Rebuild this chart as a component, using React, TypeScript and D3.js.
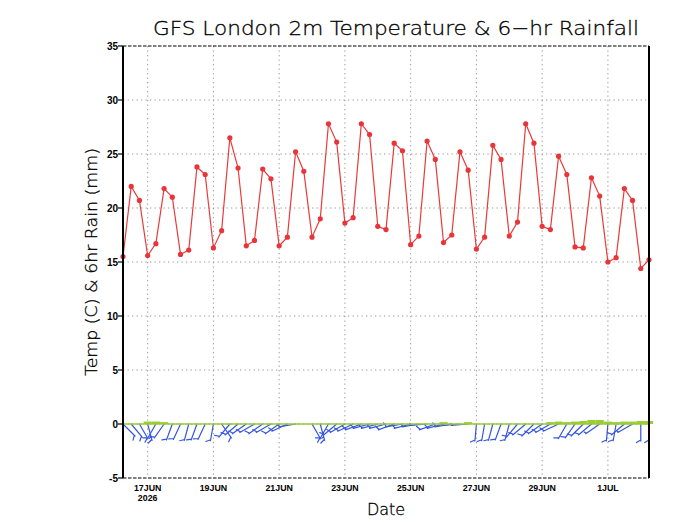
import * as d3 from "d3";

// 6-hourly GFS output, 16 Jun 06Z to 2 Jul 06Z 2026
const startTime = Date.UTC(2026, 5, 16, 6);
const stepHours = 6;

const tempC = [
  15.5, 22.0, 20.7, 15.6, 16.7, 21.8, 21.0, 15.7, 16.1, 23.8, 23.1, 16.3, 17.9,
  26.5, 23.7, 16.5, 17.0, 23.6, 22.7, 16.5, 17.3, 25.2, 23.4, 17.3, 19.0, 27.8,
  26.1, 18.6, 19.1, 27.8, 26.8, 18.3, 18.0, 26.0, 25.3, 16.6, 17.4, 26.2, 24.5,
  16.8, 17.5, 25.2, 23.5, 16.2, 17.3, 25.8, 24.5, 17.4, 18.7, 27.8, 26.0, 18.3,
  18.0, 24.8, 23.1, 16.4, 16.3, 22.8, 21.1, 15.0, 15.4, 21.8, 20.7, 14.4, 15.2,
];

const rainMm = [
  0, 0, 0, 0.15, 0.15, 0.1, 0, 0, 0, 0, 0, 0, 0, 0, 0, 0, 0, 0, 0, 0, 0, 0, 0,
  0, 0, 0, 0, 0, 0, 0, 0, 0, 0, 0, 0, 0, 0, 0, 0, 0.1, 0, 0, 0.1, 0, 0, 0, 0, 0,
  0, 0, 0, 0, 0.1, 0.15, 0.1, 0.15, 0.2, 0.3, 0.3, 0.15, 0.1, 0.15, 0.15, 0.2,
  0.2,
];

// 10m wind: direction (deg, from) and speed (kt)
const windDir = [
  135, 140, 150, 165, 210, 215, 200, 205, 195, 200, 205, 190, 145, 220, 230,
  235, 240, 235, 240, 235, 245, 260, 0, 150, 165, 210, 230, 240, 245, 250, 255,
  255, 255, 250, 260, 255, 260, 265, 250, 255, 260, 265, 265, 185, 190, 195,
  200, 195, 220, 230, 225, 235, 240, 245, 210, 215, 225, 230, 235, 185, 190,
  230, 240, 180, 180,
];
const windKt = [
  10, 10, 10, 15, 10, 10, 10, 10, 10, 10, 10, 10, 10, 10, 10, 10, 10, 10, 10,
  10, 10, 5, 0, 10, 15, 10, 10, 10, 10, 10, 10, 10, 10, 10, 10, 10, 5, 5, 10,
  10, 10, 5, 5, 10, 10, 10, 10, 10, 10, 10, 10, 10, 10, 10, 10, 10, 10, 10, 5,
  10, 10, 10, 5, 10, 10,
];

const yTicks = [-5, 0, 5, 10, 15, 20, 25, 30, 35];
const dayTicks = [
  Date.UTC(2026, 5, 17),
  Date.UTC(2026, 5, 19),
  Date.UTC(2026, 5, 21),
  Date.UTC(2026, 5, 23),
  Date.UTC(2026, 5, 25),
  Date.UTC(2026, 5, 27),
  Date.UTC(2026, 5, 29),
  Date.UTC(2026, 6, 1),
];

const width = 680;
const height = 525;
const left = 123;
const right = 649;
const top = 46;
const bottom = 478;

const times = tempC.map((_, i) => new Date(startTime + i * stepHours * 3600e3));

export default function App() {
  const x = d3
    .scaleUtc()
    .domain([times[0], times[times.length - 1]])
    .range([left, right]);
  const y = d3.scaleLinear().domain([-5, 35]).range([bottom, top]);

  const line = d3
    .line<number>()
    .x((_, i) => x(times[i]))
    .y((d) => y(d));

  const barW = x(times[1]) - x(times[0]);
  const fmt = d3.utcFormat("%-d%b");

  const shaft = 17;
  const barbs = times.map((t, i) => {
    if (windKt[i] === 0) return null;
    const x0 = x(t);
    const y0 = y(0);
    // screen angle of the shaft, pointing to where the wind comes from
    const a = ((windDir[i] - 90) * Math.PI) / 180;
    const x1 = x0 + shaft * Math.cos(a);
    const y1 = y0 + shaft * Math.sin(a);
    const fa = a + Math.PI / 3;
    const feathers: string[] = [];
    let kt = windKt[i];
    let k = 0;
    while (kt >= 5) {
      const len = kt >= 10 ? 5 : 2.5;
      const px = x1 - (k * 3 + 1) * Math.cos(a);
      const py = y1 - (k * 3 + 1) * Math.sin(a);
      feathers.push(
        `M${px},${py}L${px + len * Math.cos(fa)},${py + len * Math.sin(fa)}`
      );
      kt -= kt >= 10 ? 10 : 5;
      k++;
    }
    return `M${x0},${y0}L${x1},${y1}` + feathers.join("");
  });

  return (
    <svg
      width={width}
      height={height}
      style={{ position: "absolute", left: 0, top: 0, background: "#fff" }}
      fontFamily="'DejaVu Sans', sans-serif"
    >
      <text
        x={396}
        y={35}
        textAnchor="middle"
        fontSize={19.5}
        fontWeight={200}
        textLength={486}
        lengthAdjust="spacingAndGlyphs"
        fill="#000"
        stroke="#000"
        strokeWidth={0.3}
      >
        GFS London 2m Temperature &amp; 6−hr Rainfall
      </text>

      {/* grid */}
      <g stroke="#999" strokeWidth={1} strokeDasharray="1.3,3.2">
        {yTicks
          .filter((t) => t > -5 && t < 35)
          .map((t) => (
            <line key={t} x1={left} x2={right} y1={y(t)} y2={y(t)} />
          ))}
        {dayTicks.map((d) => (
          <line key={d} x1={x(new Date(d))} x2={x(new Date(d))} y1={top} y2={bottom} />
        ))}
      </g>

      {/* wind barbs along the zero line */}
      <g stroke="#3355e0" strokeWidth={1.2} fill="none" strokeLinecap="round">
        {barbs.map((d, i) => (d ? <path key={i} d={d} /> : null))}
      </g>

      {/* 6-hr rainfall */}
      <line x1={left} x2={right} y1={y(0)} y2={y(0)} stroke="#9acd32" strokeWidth={1.6} />
      <g fill="#9acd32">
        {rainMm.map((r, i) =>
          r > 0 ? (
            <rect
              key={i}
              x={x(times[i]) - barW / 2}
              width={barW}
              y={y(r) - 0.8}
              height={y(0) - y(r) + 0.8}
            />
          ) : null
        )}
      </g>

      {/* temperature */}
      <path d={line(tempC) ?? ""} fill="none" stroke="#e83a3a" strokeWidth={1.2} />
      <g fill="#e8353a">
        {tempC.map((d, i) => (
          <circle key={i} cx={x(times[i])} cy={y(d)} r={2.6} />
        ))}
      </g>

      {/* frame */}
      <line x1={left} x2={right} y1={top} y2={top} stroke="#000" strokeWidth={1.2} strokeDasharray="3.5,1.5" />
      <line x1={left} x2={right} y1={bottom} y2={bottom} stroke="#000" strokeWidth={1.2} strokeDasharray="3.5,1.5" />
      <line x1={left} x2={left} y1={top} y2={bottom} stroke="#000" strokeWidth={2} />
      <line x1={right} x2={right} y1={top} y2={bottom} stroke="#000" strokeWidth={2} />

      {/* y axis */}
      <g fontFamily="'Liberation Sans', Arial, sans-serif" fontWeight="bold" fontSize={10}>
        {yTicks.map((t) => (
          <g key={t}>
            <line x1={left - 5} x2={left} y1={y(t)} y2={y(t)} stroke="#000" strokeWidth={1.2} />
            <text x={left - 5} y={y(t) + 3.5} textAnchor="end">
              {t}
            </text>
          </g>
        ))}
      </g>

      {/* x axis */}
      <g fontFamily="'Liberation Sans', Arial, sans-serif" fontWeight="bold" fontSize={8.8} textAnchor="middle">
        {dayTicks.map((d, i) => (
          <g key={d}>
            <text x={x(new Date(d))} y={491}>
              {fmt(new Date(d)).toUpperCase()}
            </text>
            {i === 0 ? (
              <text x={x(new Date(d))} y={501}>
                {d3.utcFormat("%Y")(new Date(d))}
              </text>
            ) : null}
          </g>
        ))}
      </g>

      <text x={386} y={515} textAnchor="middle" fontSize={16} fontWeight={200} fill="#000" stroke="#000" strokeWidth={0.3}>
        Date
      </text>
      <text
        transform="translate(97,262) rotate(-90)"
        textAnchor="middle"
        fontSize={16}
        fontWeight={200}
        textLength={228}
        lengthAdjust="spacingAndGlyphs"
        fill="#000"
        stroke="#000"
        strokeWidth={0.3}
      >
        Temp (C) &amp; 6hr Rain (mm)
      </text>
    </svg>
  );
}
